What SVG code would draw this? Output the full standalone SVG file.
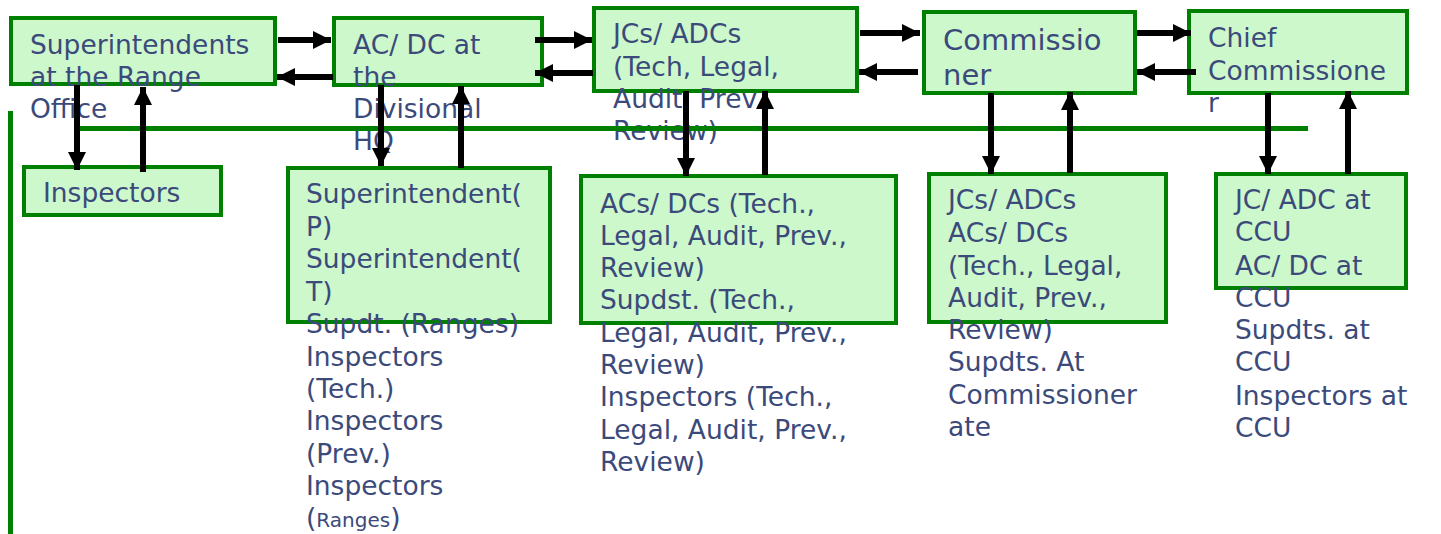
<svg xmlns="http://www.w3.org/2000/svg" width="1441" height="534" viewBox="0 0 1441 534">
<style>
.box{fill:#ccf8cc;stroke:#008000;stroke-width:4}
.t{font-family:"DejaVu Sans",Verdana,sans-serif;font-size:26.5px;fill:#3b4a7a}
.big{font-size:29px}
.sm{font-size:20px}
.div{stroke:#008000;stroke-width:5;fill:none}
.c{stroke:#000;stroke-width:6;fill:none;marker-end:url(#ah)}
</style>
<defs>
<marker id="ah" markerUnits="userSpaceOnUse" markerWidth="20" markerHeight="20" viewBox="0 0 20 20" refX="18" refY="10" orient="auto">
<path d="M0,1 L18,10 L0,19 Z" fill="#000"/>
</marker>
</defs>
<rect width="1441" height="534" fill="#fff"/>
<g id="n-range">
<rect class="box" x="11" y="18" width="264" height="66"/>
<text class="t" x="30"><tspan x="30" y="54">Superintendents</tspan><tspan x="30" y="86">at the Range</tspan><tspan x="30" y="118">Office</tspan></text>
</g>
<g id="n-divisional">
<rect class="box" x="334" y="18" width="208" height="67"/>
<text class="t"><tspan x="353" y="54">AC/ DC at</tspan><tspan x="353" y="86">the</tspan><tspan x="353" y="118">Divisional</tspan><tspan x="353" y="150">HQ</tspan></text>
</g>
<g id="n-jcs">
<rect class="box" x="594" y="8" width="263" height="83"/>
<text class="t"><tspan x="613" y="43">JCs/ ADCs</tspan><tspan x="613" y="76">(Tech, Legal,</tspan><tspan x="613" y="108">Audit, Prev.,</tspan><tspan x="613" y="140">Review)</tspan></text>
</g>
<g id="n-commissioner">
<rect class="box" x="924" y="12" width="211" height="81"/>
<text class="t big"><tspan x="943" y="50">Commissio</tspan><tspan x="943" y="85">ner</tspan></text>
</g>
<g id="n-chief">
<rect class="box" x="1189" y="11" width="218" height="82"/>
<text class="t"><tspan x="1208" y="47">Chief</tspan><tspan x="1208" y="80">Commissione</tspan><tspan x="1208" y="112">r</tspan></text>
</g>
<g id="n-inspectors">
<rect class="box" x="24" y="167" width="197" height="48"/>
<text class="t" x="43" y="202">Inspectors</text>
</g>
<g id="n-supt">
<rect class="box" x="288" y="168" width="262" height="154"/>
<text class="t"><tspan x="306" y="203">Superintendent(</tspan><tspan x="306" y="236">P)</tspan><tspan x="306" y="268">Superintendent(</tspan><tspan x="306" y="301">T)</tspan><tspan x="306" y="333">Supdt. (Ranges)</tspan><tspan x="306" y="366">Inspectors</tspan><tspan x="306" y="398">(Tech.)</tspan><tspan x="306" y="430">Inspectors</tspan><tspan x="306" y="463">(Prev.)</tspan><tspan x="306" y="495">Inspectors</tspan><tspan x="306" y="527">(<tspan class="sm">Ranges</tspan>)</tspan></text>
</g>
<g id="n-acs">
<rect class="box" x="581" y="176" width="315" height="147"/>
<text class="t"><tspan x="600" y="213">ACs/ DCs (Tech.,</tspan><tspan x="600" y="245">Legal, Audit, Prev.,</tspan><tspan x="600" y="277">Review)</tspan><tspan x="600" y="309">Supdst. (Tech.,</tspan><tspan x="600" y="342">Legal, Audit, Prev.,</tspan><tspan x="600" y="374">Review)</tspan><tspan x="600" y="406">Inspectors (Tech.,</tspan><tspan x="600" y="439">Legal, Audit, Prev.,</tspan><tspan x="600" y="471">Review)</tspan></text>
</g>
<g id="n-comm-staff">
<rect class="box" x="929" y="174" width="237" height="148"/>
<text class="t"><tspan x="948" y="209">JCs/ ADCs</tspan><tspan x="948" y="242">ACs/ DCs</tspan><tspan x="948" y="275">(Tech., Legal,</tspan><tspan x="948" y="307">Audit, Prev.,</tspan><tspan x="948" y="339">Review)</tspan><tspan x="948" y="371">Supdts. At</tspan><tspan x="948" y="404">Commissioner</tspan><tspan x="948" y="436">ate</tspan></text>
</g>
<g id="n-ccu">
<rect class="box" x="1216" y="174" width="190" height="114"/>
<text class="t"><tspan x="1235" y="209">JC/ ADC at</tspan><tspan x="1235" y="241">CCU</tspan><tspan x="1235" y="275">AC/ DC at</tspan><tspan x="1235" y="307">CCU</tspan><tspan x="1235" y="339">Supdts. at</tspan><tspan x="1235" y="371">CCU</tspan><tspan x="1235" y="405">Inspectors at</tspan><tspan x="1235" y="437">CCU</tspan></text>
</g>
<g id="dividers">
<line class="div" x1="10.5" y1="111" x2="10.5" y2="534"/>
<line class="div" x1="78" y1="128.5" x2="1308" y2="128.5"/>
</g>
<g id="connectors">
<line class="c" x1="278" y1="40" x2="331" y2="40"/>
<line class="c" x1="333" y1="77" x2="277" y2="77"/>
<line class="c" x1="535" y1="40" x2="592" y2="40"/>
<line class="c" x1="593" y1="73" x2="535" y2="73"/>
<line class="c" x1="860" y1="33" x2="920" y2="33"/>
<line class="c" x1="918" y1="72" x2="859" y2="72"/>
<line class="c" x1="1137" y1="33" x2="1191" y2="33"/>
<line class="c" x1="1196" y1="72" x2="1137" y2="72"/>
<line class="c" x1="77" y1="85" x2="77" y2="170"/>
<line class="c" x1="143" y1="172" x2="143" y2="87"/>
<line class="c" x1="381" y1="85" x2="381" y2="166"/>
<line class="c" x1="461" y1="168" x2="461" y2="86"/>
<line class="c" x1="686" y1="91" x2="686" y2="176"/>
<line class="c" x1="765" y1="175" x2="765" y2="91"/>
<line class="c" x1="991" y1="93" x2="991" y2="174"/>
<line class="c" x1="1070" y1="173" x2="1070" y2="92"/>
<line class="c" x1="1268" y1="93" x2="1268" y2="174"/>
<line class="c" x1="1348" y1="174" x2="1348" y2="91"/>
</g>
</svg>
